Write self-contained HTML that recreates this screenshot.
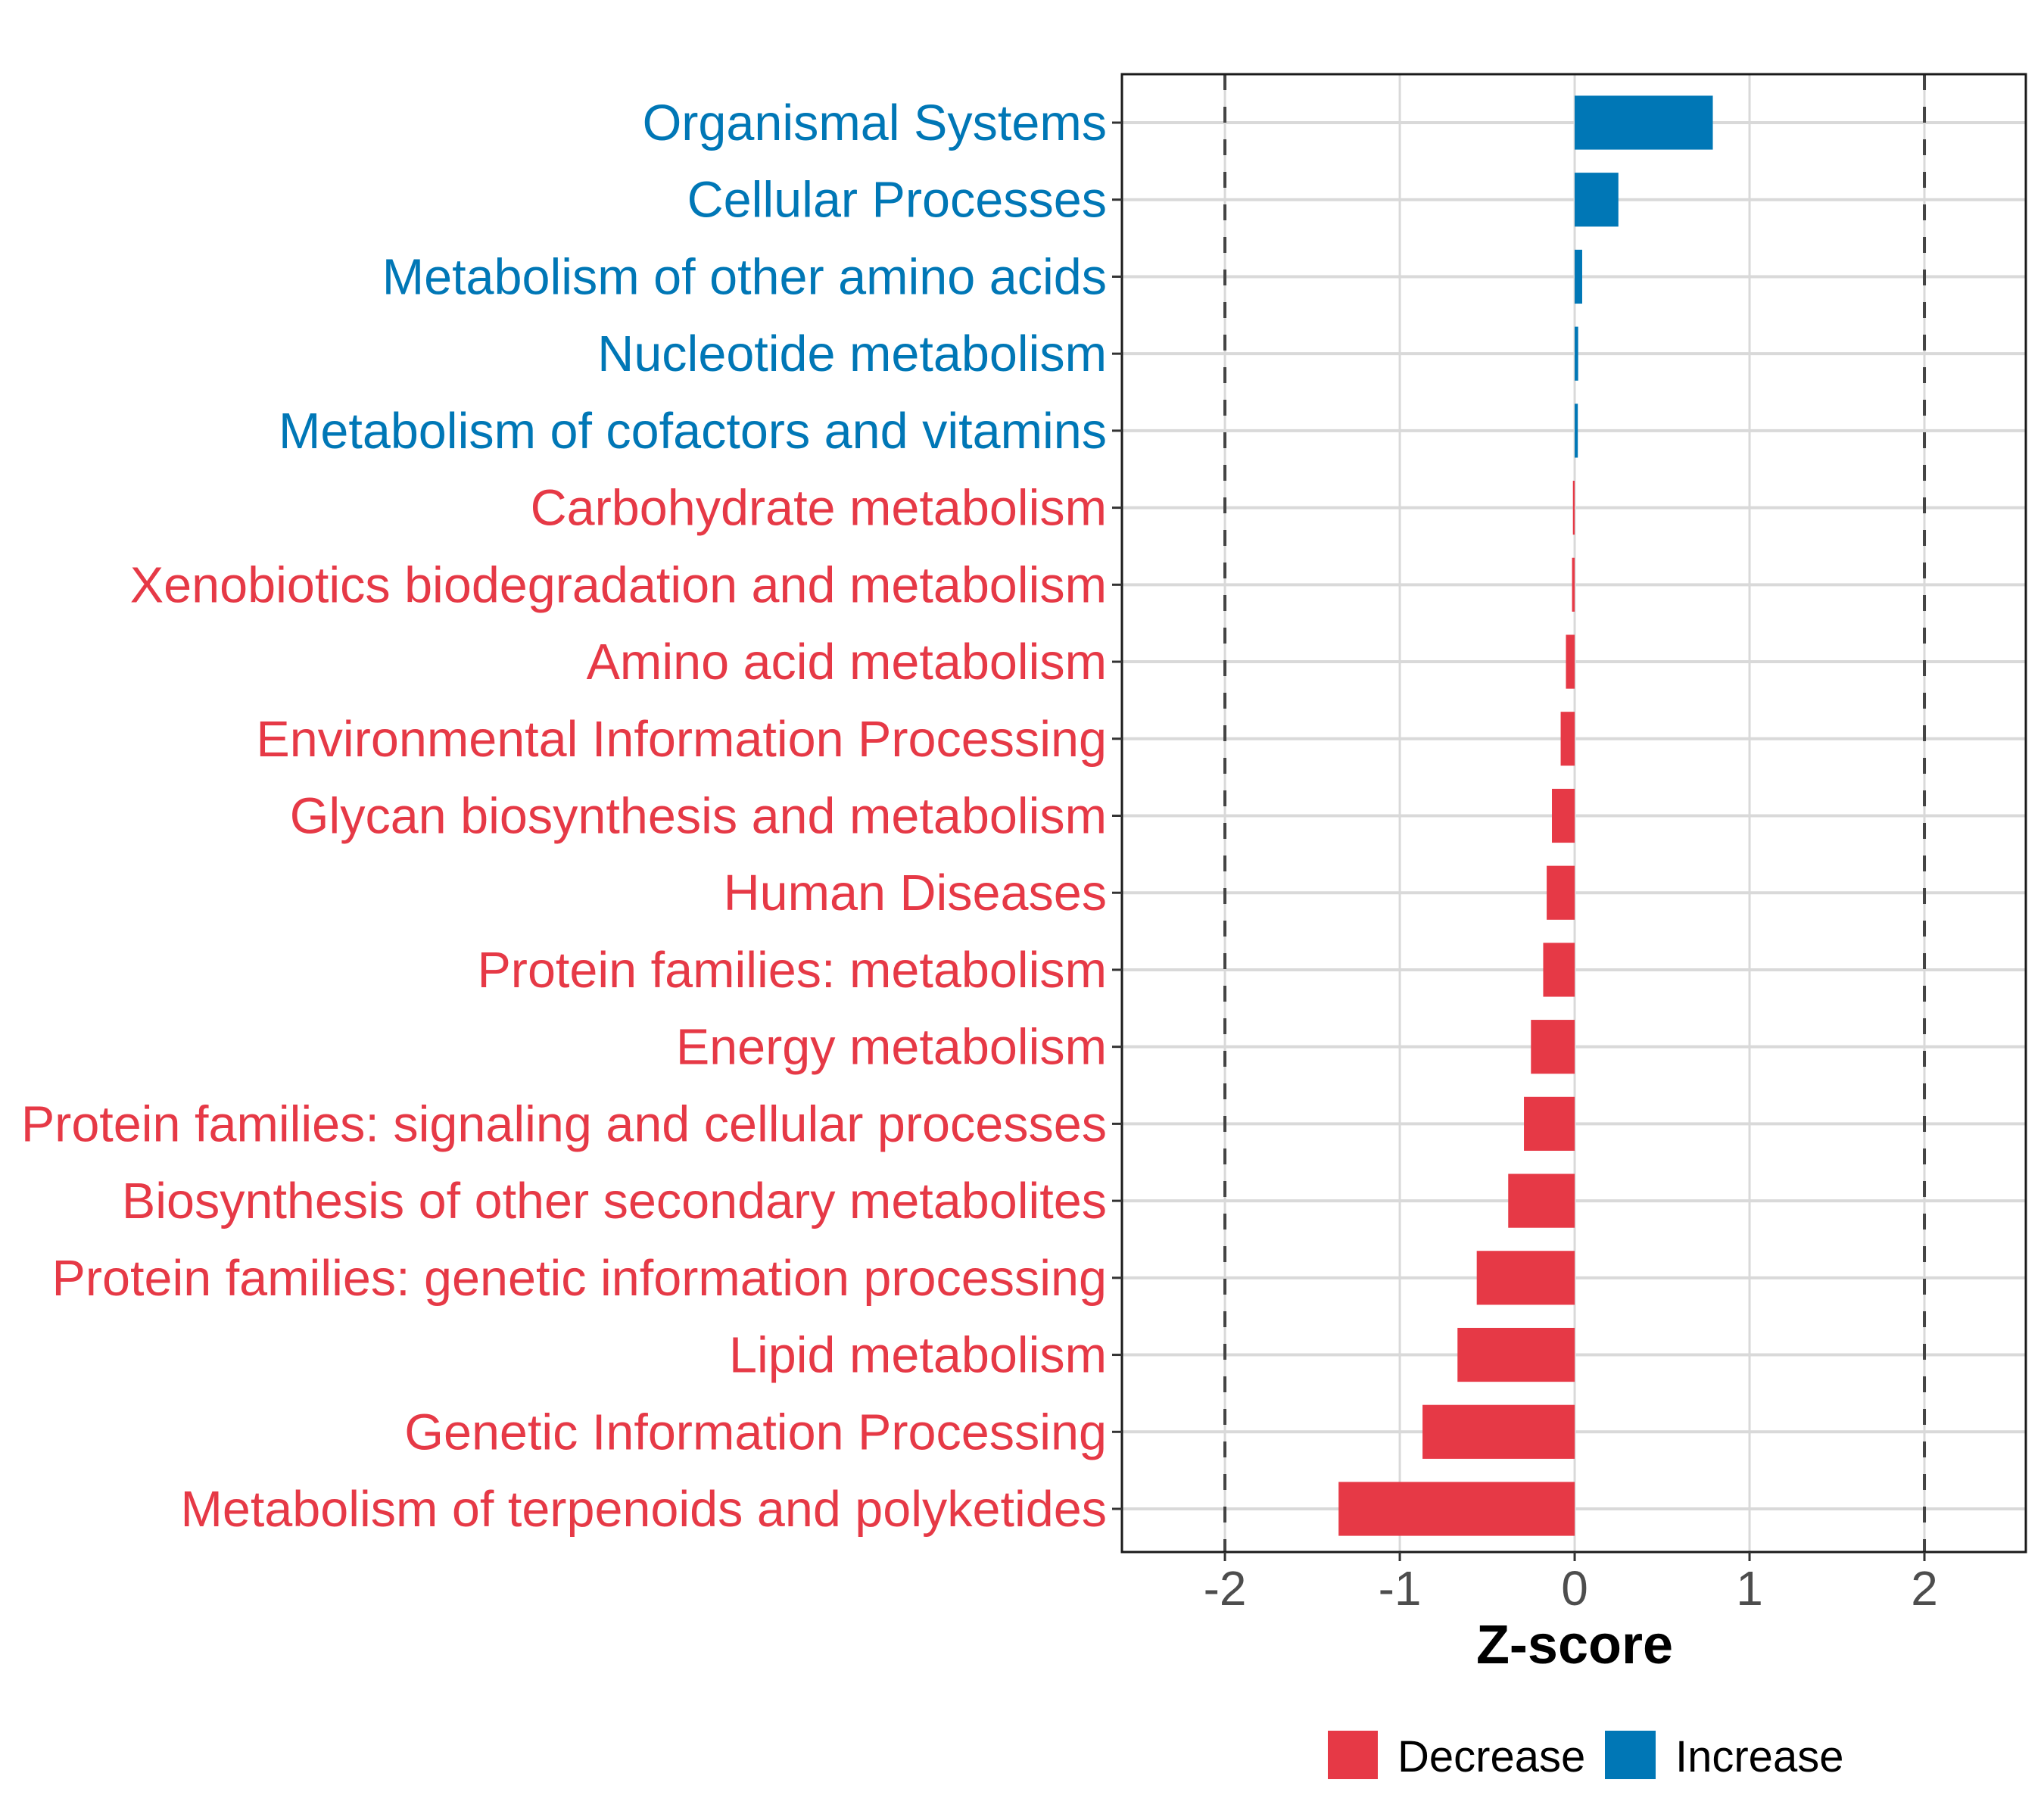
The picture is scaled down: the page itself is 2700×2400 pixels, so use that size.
<!DOCTYPE html>
<html><head><meta charset="utf-8"><style>
html,body{margin:0;padding:0;background:#fff;}
svg{display:block;font-family:"Liberation Sans",sans-serif;}
</style></head><body>
<svg id="chart" width="2700" height="2400" viewBox="0 0 2700 2400" xmlns="http://www.w3.org/2000/svg">
<rect x="0" y="0" width="2700" height="2400" fill="#fff"/>
<g id="grid"></g>
<g id="bars"></g>
<g id="refs"></g>
<rect x="1482" y="98" width="1194" height="1952" fill="none" stroke="#1a1a1a" stroke-width="3"/>
<g id="yaxis"></g>
<g id="xaxis"></g>
<text x="2080" y="2197" text-anchor="middle" font-size="72" font-weight="bold" fill="#000">Z-score</text>
<g>
<g>
<rect x="1754" y="2286" width="66" height="64" fill="#e63946"/>
<text x="1846" y="2340" font-size="58" fill="#000">Decrease</text>
</g>
<g>
<rect x="2120" y="2286" width="67" height="64" fill="#0077b6"/>
<text x="2213" y="2340" font-size="58" fill="#000">Increase</text>
</g>
</g>
</svg>
<script>
const categories = ["Organismal Systems","Cellular Processes","Metabolism of other amino acids","Nucleotide metabolism","Metabolism of cofactors and vitamins","Carbohydrate metabolism","Xenobiotics biodegradation and metabolism","Amino acid metabolism","Environmental Information Processing","Glycan biosynthesis and metabolism","Human Diseases","Protein families: metabolism","Energy metabolism","Protein families: signaling and cellular processes","Biosynthesis of other secondary metabolites","Protein families: genetic information processing","Lipid metabolism","Genetic Information Processing","Metabolism of terpenoids and polyketides"];
const zscores = [0.79,0.25,0.043,0.02,0.018,-0.01,-0.015,-0.05,-0.08,-0.13,-0.16,-0.18,-0.25,-0.29,-0.38,-0.56,-0.67,-0.87,-1.35];
const xTicks = [-2,-1,0,1,2];
const xTickLabels = ["-2","-1","0","1","2"];
const refLines = [-2,2];

const NS="http://www.w3.org/2000/svg";
const PL=1482, PR=2676, PT=98, PB=2050;
const xMin=-2.589, xMax=2.58;
function xs(v){return PL+(v-xMin)/(xMax-xMin)*(PR-PL);}
const n=categories.length;
const Y0=162, Y1=1993;
const step=(Y1-Y0)/(n-1);
function ys(i){return Y0+i*step;}
function mk(tag,attrs,parent){const e=document.createElementNS(NS,tag);for(const k in attrs)e.setAttribute(k,attrs[k]);parent.appendChild(e);return e;}
const grid=document.getElementById('grid'), bars=document.getElementById('bars'), refs=document.getElementById('refs'), yaxis=document.getElementById('yaxis'), xaxis=document.getElementById('xaxis');
xTicks.forEach((t,i)=>{
  const l=mk('line',{x1:xs(t),x2:xs(t),y1:PT,y2:PB,stroke:'#d9d9d9','stroke-width':3},grid);
  
  
  const tk=mk('line',{x1:xs(t),x2:xs(t),y1:PB,y2:PB+12,stroke:'#333','stroke-width':3},xaxis);
  
  
  const tx=mk('text',{x:xs(t),y:PB+70,'text-anchor':'middle','font-size':64,fill:'#4d4d4d'},xaxis);
  tx.textContent=xTickLabels[i];
  
  
});
categories.forEach((c,i)=>{
  const y=ys(i);
  const l=mk('line',{x1:PL,x2:PR,y1:y,y2:y,stroke:'#d9d9d9','stroke-width':4},grid);
  
  
  const v=zscores[i];
  const col=v>=0?'#0077b6':'#e63946';
  const x0=xs(0), x1=xs(v);
  const h=step*0.7;
  const r=mk('rect',{x:Math.min(x0,x1),y:y-h/2,width:Math.max(Math.abs(x1-x0),1.5),height:h,fill:col},bars);
  
  
  const tk=mk('line',{x1:PL-13,x2:PL,y1:y,y2:y,stroke:'#333','stroke-width':3},yaxis);
  
  
  const tx=mk('text',{x:PL-20,y:y+23,'text-anchor':'end','font-size':66.5,fill:col},yaxis);
  tx.textContent=c;
  
  
});
refLines.forEach(v=>{
  const l=mk('line',{x1:xs(v),x2:xs(v),y1:PT,y2:PB,stroke:'#444','stroke-width':4,'stroke-dasharray':'21 22'},refs);
  
  
});
</script>
</body></html>
